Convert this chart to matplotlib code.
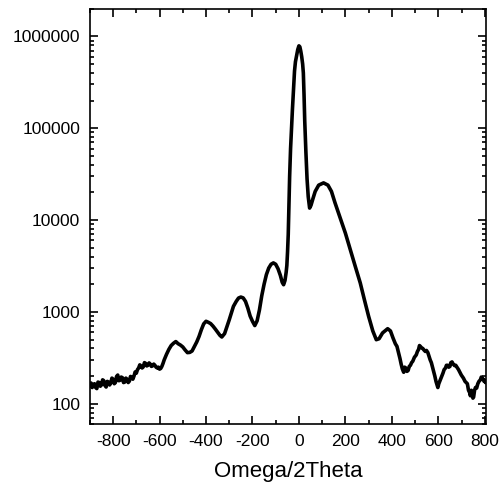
import numpy as np
import matplotlib
matplotlib.use("Agg")
from matplotlib import pyplot as plt
from matplotlib.ticker import LogLocator, MultipleLocator, FixedLocator, NullFormatter

plt.rcParams['font.family'] = ['Liberation Sans', 'DejaVu Sans']
plt.rcParams['axes.unicode_minus'] = False

# omega/2theta scan
omega = [-900, -895, -890, -885, -880, -875, -870, -865, -860, -855,
         -850, -845, -840, -835, -830, -825, -820, -815, -810, -805,
         -800, -795, -790, -785, -780, -775, -770, -765, -760, -755,
         -750, -745, -740, -735, -730, -725, -720, -715, -710, -705,
         -700, -695, -690, -685, -680, -675, -670, -665, -660, -655,
         -650, -645, -640, -635, -630, -625, -620, -615, -610, -605,
         -600, -595, -590, -585, -580, -570, -560, -550, -540, -530,
         -520, -510, -500, -490, -480, -470, -460, -450, -440, -430,
         -420, -410, -400, -390, -380, -370, -360, -350, -340, -332,
         -320, -310, -300, -290, -282, -270, -260, -250, -240, -230,
         -220, -210, -200, -190, -180, -170, -160, -150, -140, -130,
         -120, -110, -100, -90, -80, -72, -66, -60, -55, -52,
         -49, -46, -43, -40, -36, -32, -28, -24, -19, -15,
         -10, -5, 0, 4, 8, 12, 16, 19, 22, 25,
         30, 35, 40, 46, 52, 60, 70, 85, 106, 125,
         140, 155, 175, 200, 221, 243, 264, 282, 300, 318,
         333, 345, 360, 382, 394, 405, 415, 422, 429, 435,
         440, 445, 451, 455, 460, 465, 470, 475, 480, 485,
         490, 497, 505, 510, 515, 519, 523, 528, 533, 538,
         544, 549, 555, 560, 565, 570, 575, 580, 585, 590,
         595, 598, 602, 606, 610, 615, 620, 625, 631, 635,
         640, 645, 650, 654, 659, 664, 670, 675, 680, 687,
         695, 699, 703, 708, 715, 720, 725, 730, 735, 738,
         742, 746, 749, 752, 756, 760, 765, 770, 775, 781,
         785, 790, 794, 797, 800, 803, 810]
counts = [158, 168, 150, 162, 165, 150, 146, 172, 170, 155,
          160, 182, 178, 158, 152, 175, 172, 160, 168, 190,
          185, 165, 170, 198, 205, 178, 180, 195, 192, 170,
          172, 190, 185, 170, 176, 198, 195, 185, 200, 222,
          215, 235, 245, 265, 258, 245, 252, 280, 275, 258,
          262, 278, 270, 255, 258, 270, 262, 250, 245, 250,
          238, 242, 255, 275, 300, 345, 390, 430, 455, 475,
          450, 435, 415, 385, 360, 362, 375, 420, 470, 540,
          640, 740, 790, 770, 745, 700, 650, 600, 555, 533,
          580, 690, 820, 990, 1148, 1300, 1415, 1450, 1420, 1300,
          1100, 900, 790, 710, 800, 1050, 1500, 2000, 2550, 3000,
          3300, 3415, 3300, 2950, 2500, 2100, 1977, 2200, 2700, 3200,
          4500, 7000, 15000, 30000, 60000, 100000, 160000, 250000, 420000, 530000,
          620000, 720000, 790000, 770000, 690000, 600000, 500000, 400000, 230000, 120000,
          55000, 28000, 18000, 13500, 14500, 17000, 20500, 24000, 25400, 24000,
          20500, 15500, 11000, 7200, 4760, 3100, 2066, 1350, 894, 620,
          498, 510, 590, 656, 620, 520, 450, 421, 357, 310,
          270, 240, 220, 250, 245, 225, 230, 255, 262, 280,
          290, 320, 340, 370, 390, 430, 420, 405, 400, 385,
          371, 380, 360, 330, 300, 280, 250, 225, 200, 175,
          158, 150, 165, 175, 185, 200, 215, 235, 245, 262,
          262, 250, 255, 280, 285, 270, 260, 262, 250, 235,
          215, 205, 198, 190, 175, 170, 165, 140, 132, 122,
          140, 130, 115, 118, 140, 150, 148, 165, 175, 182,
          195, 190, 182, 175, 180, 170, 168]

fig = plt.figure(figsize=(5.02, 4.88), dpi=100)
ax = fig.add_axes([0.179, 0.131, 0.789, 0.851])

ax.plot(omega, counts, color='black', linewidth=2.6, solid_joinstyle='round')

ax.set_yscale('log')
ax.set_xlim(-900, 805)
ax.set_ylim(60, 2e6)

ax.xaxis.set_major_locator(MultipleLocator(200))
ax.xaxis.set_minor_locator(MultipleLocator(100))
ax.yaxis.set_major_locator(FixedLocator([100, 1000, 10000, 100000, 1000000]))
ax.yaxis.set_minor_locator(LogLocator(base=10, subs=np.arange(2, 10)))
ax.yaxis.set_minor_formatter(NullFormatter())
ax.set_yticklabels(['100', '1000', '10000', '100000', '1000000'])

ax.tick_params(which='both', direction='in', top=True, right=True, width=1.2, labelsize=12.5)
ax.tick_params(which='major', length=6)
ax.tick_params(which='minor', length=3)
ax.tick_params(axis='x', pad=7.5)
ax.tick_params(axis='y', pad=7)
for s in ax.spines.values():
    s.set_linewidth(1.2)

ax.set_xlabel('Omega/2Theta', fontsize=16, labelpad=8)

fig.savefig('out.png', dpi=100)
